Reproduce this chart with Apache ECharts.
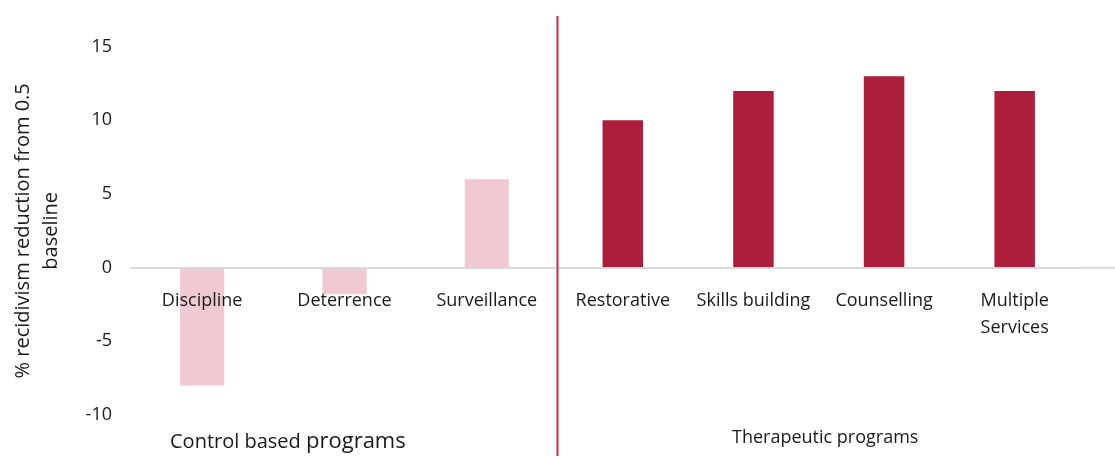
<!DOCTYPE html>
<html>
<head>
<meta charset="utf-8">
<script src="https://cdn.jsdelivr.net/npm/echarts@6/dist/echarts.min.js"></script>
<style>
  html, body { margin: 0; padding: 0; background: #fff; }
  #chart { width: 1115px; height: 456px; }
</style>
</head>
<body>
<div id="chart"></div>
<script>
const FONT = "'Open Sans', 'Noto Sans', sans-serif";
const LIGHT = '#f0c9d3';
const DARK = '#ac1e3a';

const controlCategories = ['Discipline', 'Deterrence', 'Surveillance'];
const controlValues = [-8, -1.8, 6];
const therapeuticCategories = ['Restorative', 'Skills building', 'Counselling', 'Multiple\nServices'];
const therapeuticValues = [10, 12, 13, 12];
const yTicks = { min: -10, max: 15, interval: 5 };

const chart = echarts.init(document.getElementById('chart'), null, { renderer: 'canvas' });

const xAxisBase = (cats, gridIndex) => ({
  type: 'category',
  gridIndex,
  data: cats,
  z: 5,
  axisTick: { show: false },
  axisLine: { show: true, onZero: false, lineStyle: { color: '#d9d9d9', width: 2 } },
  axisLabel: { color: '#1a1a1a', fontSize: 18, fontFamily: FONT, margin: 20, lineHeight: 27, interval: 0 },
});

const yAxisBase = (gridIndex, show) => ({
  type: 'value',
  gridIndex,
  min: yTicks.min,
  max: yTicks.max,
  interval: yTicks.interval,
  splitLine: { show: false },
  axisLine: { show: false },
  axisTick: { show: false },
  axisLabel: { show, color: '#1a1a1a', fontSize: 18, fontFamily: FONT, margin: 19 },
});

const option = {
  animation: false,
  grid: [
    { left: 131, width: 427, top: 46.7, bottom: 41, outerBoundsMode: 'none', containLabel: false },
    { left: 557.5, width: 522.5, top: 46.7, bottom: 41, outerBoundsMode: 'none', containLabel: false },
  ],
  xAxis: [xAxisBase(controlCategories, 0), xAxisBase(therapeuticCategories, 1)],
  yAxis: [
    Object.assign(yAxisBase(0, true), {
      name: '% recidivism reduction from 0.5\nbaseline',
      nameLocation: 'middle',
      nameGap: 66,
      nameTextStyle: { color: '#1a1a1a', fontSize: 20, fontFamily: FONT, lineHeight: 28 },
    }),
    yAxisBase(1, false),
  ],
  series: [
    {
      type: 'bar',
      xAxisIndex: 0,
      yAxisIndex: 0,
      data: controlValues,
      barWidth: '31%',
      itemStyle: { color: LIGHT },
    },
    {
      type: 'bar',
      xAxisIndex: 1,
      yAxisIndex: 1,
      data: therapeuticValues,
      barWidth: '31%',
      itemStyle: { color: DARK },
    },
  ],
};

chart.setOption(option);

// move the category axes up to the zero line
const zeroY = chart.convertToPixel({ yAxisIndex: 1 }, 0);
const bottomY = chart.convertToPixel({ yAxisIndex: 1 }, yTicks.min);
const shift = zeroY - bottomY;
chart.setOption({ xAxis: [{ offset: shift }, { offset: shift }] });

// divider between the two program groups and the zero line extension
const p0 = chart.convertToPixel({ xAxisIndex: 1 }, therapeuticCategories[0]);
const p1 = chart.convertToPixel({ xAxisIndex: 1 }, therapeuticCategories[1]);
const dividerX = p0 - (p1 - p0) / 2;
const lastX = chart.convertToPixel({ xAxisIndex: 1 }, therapeuticCategories[therapeuticCategories.length - 1]) + (p1 - p0) / 2;

chart.setOption({
  graphic: [
    {
      type: 'line',
      shape: { x1: lastX, y1: zeroY, x2: 1115, y2: zeroY },
      style: { stroke: '#d9d9d9', lineWidth: 2 },
      silent: true,
    },
    {
      type: 'line',
      shape: { x1: dividerX, y1: 16, x2: dividerX, y2: 456 },
      style: { stroke: '#c22b47', lineWidth: 2 },
      z: 10,
      silent: true,
    },
    {
      type: 'text',
      left: 170,
      top: 431,
      style: {
        text: '{a|Control based }{b|programs}',
        rich: {
          a: { fontSize: 20, fontFamily: FONT, fill: '#1a1a1a' },
          b: { fontSize: 22, fontFamily: FONT, fill: '#1a1a1a' },
        },
      },
    },
    {
      type: 'text',
      left: 732,
      top: 429,
      style: { text: 'Therapeutic programs', fontSize: 18, fontFamily: FONT, fill: '#1a1a1a' },
    },
  ],
});
</script>
</body>
</html>
